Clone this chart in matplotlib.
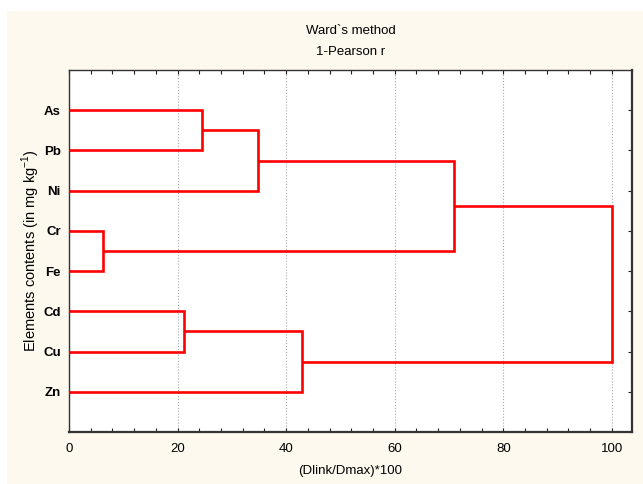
import matplotlib
matplotlib.use("Agg")
import matplotlib.pyplot as plt
from matplotlib.patches import Rectangle
from matplotlib.ticker import MultipleLocator

plt.rcParams['font.family'] = ['Liberation Sans', 'DejaVu Sans']
plt.rcParams['mathtext.fontset'] = 'custom'
plt.rcParams['mathtext.rm'] = 'Liberation Sans'

leaves = ["As", "Pb", "Ni", "Cr", "Fe", "Cd", "Cu", "Zn"]
# linkage: (child_a, child_b, linkage distance) ; ids >= 8 are previous merges
merge_a = [0, 8, 3, 9, 5, 12, 11]
merge_b = [1, 2, 4, 10, 6, 7, 13]
merge_h = [24.5, 34.8, 6.3, 70.9, 21.2, 42.9, 100.0]
xticks = [0, 20, 40, 60, 80, 100]

W, H = 643, 484
fig = plt.figure(figsize=(W / 100, H / 100), dpi=100, facecolor='white')
fig.patches.append(Rectangle((7 / W, 0), 1 - 7 / W, 1 - 11 / H, transform=fig.transFigure,
                             facecolor='#FEF9EE', edgecolor='none', zorder=-10))
ax = fig.add_axes([69 / W, 1 - 432 / H, (632 - 69) / W, (432 - 70) / H])
ax.set_facecolor('white')

pos = {i: (i + 1, 0.0) for i in range(len(leaves))}
for k, (a, b, h) in enumerate(zip(merge_a, merge_b, merge_h)):
    ya, ha = pos[a]
    yb, hb = pos[b]
    ax.plot([ha, h, h, hb], [ya, ya, yb, yb], color='#FF0000', lw=1.9,
            solid_joinstyle='miter', solid_capstyle='butt', zorder=3)
    pos[len(leaves) + k] = ((ya + yb) / 2, h)

ax.set_xlim(0, 103.7)
ax.set_ylim(9, 0)
ax.set_yticks(range(1, len(leaves) + 1))
ax.set_yticklabels(leaves, fontweight='bold', fontsize=9.5)
ax.set_xticks(xticks)
ax.set_xticklabels([str(t) for t in xticks], fontsize=9.5)
ax.xaxis.set_minor_locator(MultipleLocator(4))
ax.tick_params(axis='both', which='both', direction='in', top=True, right=True,
               length=3, width=0.8, color='#222222')
ax.tick_params(axis='x', which='major', pad=8)
ax.tick_params(axis='y', which='major', pad=6)
ax.grid(axis='x', which='major', linestyle=':', color='#AAAAAA', lw=0.8, zorder=0)
for s in ax.spines.values():
    s.set_color('#333333')
    s.set_linewidth(1.0)
ax.spines['right'].set_linewidth(1.6)
ax.spines['bottom'].set_linewidth(1.6)

fig.text((69 + 632) / 2 / W, 1 - 31 / H, "Ward`s method", ha='center', va='center', fontsize=9.5)
fig.text((69 + 632) / 2 / W, 1 - 52 / H, "1-Pearson r", ha='center', va='center', fontsize=9.5)
ax.set_xlabel("(Dlink/Dmax)*100", fontsize=9.5, labelpad=7)
ax.set_ylabel("Elements contents (in mg kg$^{\\mathrm{-1}}$)", fontsize=10.5, labelpad=1)

fig.savefig("out.png", dpi=100, facecolor='white')
